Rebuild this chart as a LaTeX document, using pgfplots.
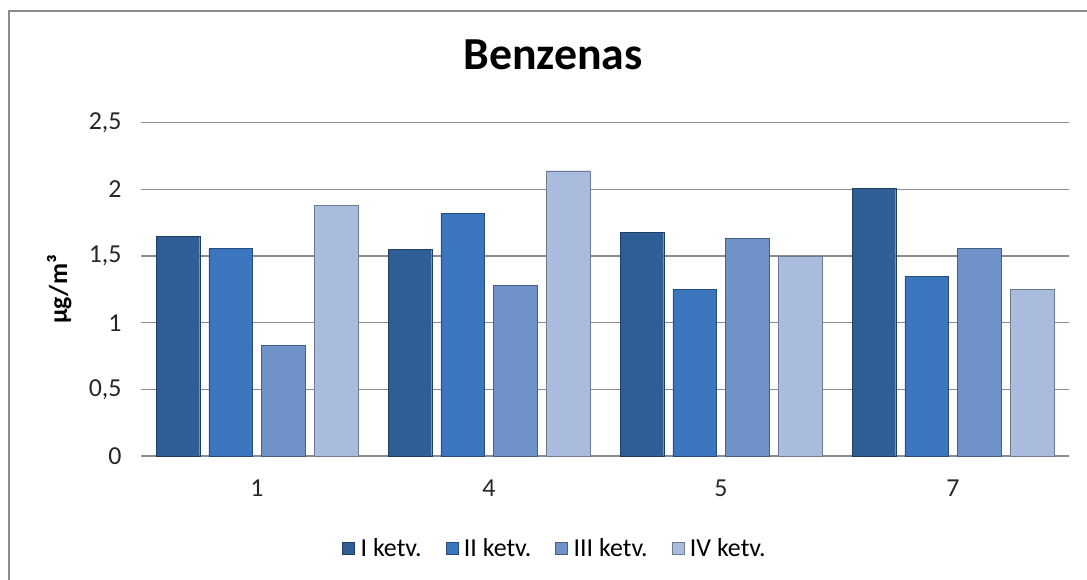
\documentclass[border=0pt]{standalone}
\usepackage{pgfplots}
\pgfplotsset{compat=1.18}
\usepackage{fontspec}
\setmainfont{Carlito}
\definecolor{sA}{HTML}{2F5D96}
\definecolor{sB}{HTML}{3A75BE}
\definecolor{sC}{HTML}{6F92C8}
\definecolor{sD}{HTML}{A9BCDD}
\definecolor{gridc}{HTML}{8C8C8C}
\begin{document}
\begin{tikzpicture}
\useasboundingbox (0bp,0bp) rectangle (1087bp,-580bp);
\draw[gridc, line width=2.2bp] (9bp,-580bp) -- (9bp,-11bp) -- (1087bp,-11bp);
\begin{axis}[
  at={(141bp,-456bp)}, anchor=south west,
  scale only axis, width=928bp, height=333.3bp,
  ymin=0, ymax=2.5, xmin=-0.5, xmax=3.5,
  xtick=data, xticklabels={1,4,5,7},
  ytick={0,0.5,1,1.5,2,2.5},
  yticklabels={0,{0,5},1,{1,5},2,{2,5}},
  ybar=9.2bp, bar width=43.5bp,
  axis x line*=bottom, axis y line*=left,
  y axis line style={draw=none},
  x axis line style={gridc, line width=1.3bp},
  ymajorgrids, grid style={gridc, line width=1.3bp},
  major tick length=0,
  ticklabel style={font=\fontsize{26}{28}\selectfont, text=black!85},
  xticklabel style={yshift=-20bp},
  yticklabel style={xshift=-16bp},
  title={\textbf{Benzenas}},
  title style={at={(axis description cs:0.444,1.185)}, anchor=center, font=\fontsize{46}{50}\selectfont},
  ylabel={\textbf{µg/m³}},
  ylabel style={at={(axis description cs:-0.088,0.5)}, anchor=center, font=\fontsize{26}{28}\selectfont},
  legend columns=4,
  legend style={draw=none, at={(axis description cs:0.446,-0.276)}, anchor=center, font=\fontsize{26}{28}\selectfont,
    /tikz/every even column/.append style={column sep=22bp},
    /tikz/every odd column/.append style={column sep=4bp}},
  legend image code/.code={\fill[#1] (0bp,-6bp) rectangle (12bp,6bp);},
]
\addplot[fill=sA, draw=sA!65!black] coordinates {(0,1.65) (1,1.55) (2,1.68) (3,2.01)};
\addplot[fill=sB, draw=sB!65!black] coordinates {(0,1.56) (1,1.82) (2,1.25) (3,1.35)};
\addplot[fill=sC, draw=sC!65!black] coordinates {(0,0.83) (1,1.28) (2,1.63) (3,1.56)};
\addplot[fill=sD, draw=sD!65!black] coordinates {(0,1.88) (1,2.14) (2,1.50) (3,1.25)};
\legend{I ketv.,II ketv.,III ketv.,IV ketv.}
\end{axis}
\end{tikzpicture}
\end{document}
